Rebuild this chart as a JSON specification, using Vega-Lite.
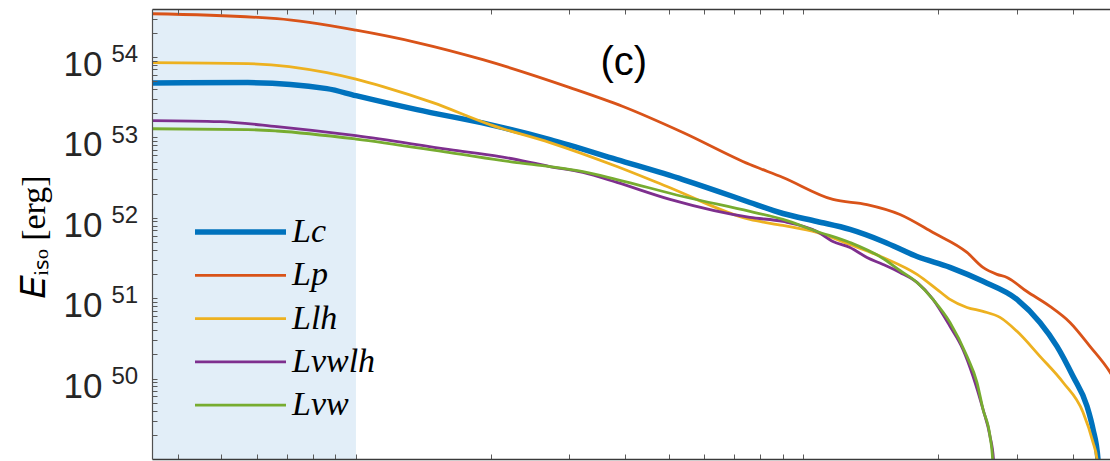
{
  "$schema": "https://vega.github.io/schema/vega-lite/v6.json",
  "width": 958,
  "height": 450,
  "autosize": {"type": "none"},
  "padding": {"left": 152, "top": 9, "right": 0, "bottom": 2},
  "background": "white",
  "config": {
    "view": {"stroke": null},
    "axis": {"grid": false, "labelOverlap": false, "labelFlush": false, "zindex": 2}
  },
  "datasets": {
    "band": [{"start": 0.35, "end": 1.0}],
    "note": [{"t": 3.97, "Eiso": 6.03e53, "label": "(c)"}],
    "curves": [
      {"series": "Lc", "t": 0.35, "Eiso": 4.75e53},
      {"series": "Lc", "t": 0.573, "Eiso": 4.8e53},
      {"series": "Lc", "t": 0.861, "Eiso": 4.04e53},
      {"series": "Lc", "t": 1.0, "Eiso": 3.3e53},
      {"series": "Lc", "t": 1.369, "Eiso": 2.21e53},
      {"series": "Lc", "t": 1.993, "Eiso": 1.44e53},
      {"series": "Lc", "t": 2.715, "Eiso": 9.4e52},
      {"series": "Lc", "t": 3.832, "Eiso": 5.3e52},
      {"series": "Lc", "t": 5.383, "Eiso": 2.99e52},
      {"series": "Lc", "t": 6.965, "Eiso": 1.84e52},
      {"series": "Lc", "t": 7.601, "Eiso": 1.55e52},
      {"series": "Lc", "t": 9.007, "Eiso": 1.13e52},
      {"series": "Lc", "t": 10.73, "Eiso": 9.0e51},
      {"series": "Lc", "t": 12.72, "Eiso": 7.16e51},
      {"series": "Lc", "t": 15.08, "Eiso": 5.08e51},
      {"series": "Lc", "t": 17.96, "Eiso": 3.3e51},
      {"series": "Lc", "t": 21.28, "Eiso": 2.42e51},
      {"series": "Lc", "t": 25.22, "Eiso": 1.62e51},
      {"series": "Lc", "t": 30.05, "Eiso": 9.66e50},
      {"series": "Lc", "t": 33.82, "Eiso": 5.0e50},
      {"series": "Lc", "t": 36.92, "Eiso": 2.52e50},
      {"series": "Lc", "t": 40.09, "Eiso": 1.07e50},
      {"series": "Lc", "t": 43.09, "Eiso": 4.53e49},
      {"series": "Lc", "t": 44.44, "Eiso": 2.34e49},
      {"series": "Lc", "t": 45.58, "Eiso": 1.0e49},
      {"series": "Lc", "t": 46.0, "Eiso": 1.0e47},
      {"series": "Lp", "t": 0.35, "Eiso": 3.45e54},
      {"series": "Lp", "t": 0.666, "Eiso": 2.99e54},
      {"series": "Lp", "t": 1.0, "Eiso": 2.15e54},
      {"series": "Lp", "t": 1.369, "Eiso": 1.51e54},
      {"series": "Lp", "t": 1.922, "Eiso": 9.25e53},
      {"series": "Lp", "t": 3.009, "Eiso": 4.16e53},
      {"series": "Lp", "t": 3.953, "Eiso": 2.42e53},
      {"series": "Lp", "t": 5.383, "Eiso": 1.15e53},
      {"series": "Lp", "t": 7.601, "Eiso": 4.59e52},
      {"series": "Lp", "t": 9.007, "Eiso": 3.17e52},
      {"series": "Lp", "t": 11.65, "Eiso": 1.69e52},
      {"series": "Lp", "t": 13.88, "Eiso": 1.46e52},
      {"series": "Lp", "t": 16.45, "Eiso": 1.1e52},
      {"series": "Lp", "t": 19.5, "Eiso": 6.56e51},
      {"series": "Lp", "t": 23.23, "Eiso": 3.71e51},
      {"series": "Lp", "t": 25.22, "Eiso": 2.42e51},
      {"series": "Lp", "t": 27.1, "Eiso": 1.98e51},
      {"series": "Lp", "t": 28.54, "Eiso": 1.81e51},
      {"series": "Lp", "t": 31.63, "Eiso": 1.21e51},
      {"series": "Lp", "t": 35.61, "Eiso": 7.91e50},
      {"series": "Lp", "t": 39.47, "Eiso": 5.0e50},
      {"series": "Lp", "t": 43.75, "Eiso": 2.52e50},
      {"series": "Lp", "t": 48.51, "Eiso": 1.2e50},
      {"series": "Lp", "t": 52.0, "Eiso": 6.0e49},
      {"series": "Llh", "t": 0.35, "Eiso": 8.5e53},
      {"series": "Llh", "t": 0.573, "Eiso": 8.26e53},
      {"series": "Llh", "t": 0.861, "Eiso": 6.38e53},
      {"series": "Llh", "t": 1.0, "Eiso": 5.3e53},
      {"series": "Llh", "t": 1.149, "Eiso": 4.28e53},
      {"series": "Llh", "t": 1.486, "Eiso": 2.7e53},
      {"series": "Llh", "t": 1.993, "Eiso": 1.44e53},
      {"series": "Llh", "t": 2.715, "Eiso": 8.61e52},
      {"series": "Llh", "t": 3.832, "Eiso": 4.34e52},
      {"series": "Llh", "t": 4.958, "Eiso": 2.45e52},
      {"series": "Llh", "t": 7.601, "Eiso": 9.53e51},
      {"series": "Llh", "t": 9.007, "Eiso": 8.02e51},
      {"series": "Llh", "t": 10.73, "Eiso": 6.56e51},
      {"series": "Llh", "t": 12.72, "Eiso": 4.65e51},
      {"series": "Llh", "t": 15.08, "Eiso": 3.21e51},
      {"series": "Llh", "t": 17.96, "Eiso": 1.98e51},
      {"series": "Llh", "t": 19.9, "Eiso": 1.29e51},
      {"series": "Llh", "t": 21.28, "Eiso": 9.66e50},
      {"series": "Llh", "t": 23.23, "Eiso": 7.67e50},
      {"series": "Llh", "t": 25.22, "Eiso": 6.85e50},
      {"series": "Llh", "t": 27.53, "Eiso": 5.77e50},
      {"series": "Llh", "t": 30.05, "Eiso": 3.87e50},
      {"series": "Llh", "t": 33.82, "Eiso": 1.89e50},
      {"series": "Llh", "t": 38.07, "Eiso": 9.0e49},
      {"series": "Llh", "t": 42.21, "Eiso": 3.81e49},
      {"series": "Llh", "t": 44.44, "Eiso": 1.61e49},
      {"series": "Llh", "t": 45.35, "Eiso": 1.0e49},
      {"series": "Llh", "t": 45.6, "Eiso": 1.0e47},
      {"series": "Lvwlh", "t": 0.35, "Eiso": 1.62e53},
      {"series": "Lvwlh", "t": 0.497, "Eiso": 1.57e53},
      {"series": "Lvwlh", "t": 0.666, "Eiso": 1.36e53},
      {"series": "Lvwlh", "t": 1.0, "Eiso": 1.05e53},
      {"series": "Lvwlh", "t": 1.622, "Eiso": 7.05e52},
      {"series": "Lvwlh", "t": 2.098, "Eiso": 5.77e52},
      {"series": "Lvwlh", "t": 2.715, "Eiso": 4.34e52},
      {"series": "Lvwlh", "t": 3.217, "Eiso": 3.66e52},
      {"series": "Lvwlh", "t": 3.832, "Eiso": 2.75e52},
      {"series": "Lvwlh", "t": 5.035, "Eiso": 1.69e52},
      {"series": "Lvwlh", "t": 7.601, "Eiso": 1.01e52},
      {"series": "Lvwlh", "t": 9.007, "Eiso": 9.0e51},
      {"series": "Lvwlh", "t": 10.73, "Eiso": 6.76e51},
      {"series": "Lvwlh", "t": 11.65, "Eiso": 5.08e51},
      {"series": "Lvwlh", "t": 12.72, "Eiso": 4.28e51},
      {"series": "Lvwlh", "t": 13.88, "Eiso": 3.21e51},
      {"series": "Lvwlh", "t": 15.08, "Eiso": 2.63e51},
      {"series": "Lvwlh", "t": 16.45, "Eiso": 2.09e51},
      {"series": "Lvwlh", "t": 17.96, "Eiso": 1.57e51},
      {"series": "Lvwlh", "t": 19.5, "Eiso": 9.66e50},
      {"series": "Lvwlh", "t": 21.28, "Eiso": 4.47e50},
      {"series": "Lvwlh", "t": 22.75, "Eiso": 2.31e50},
      {"series": "Lvwlh", "t": 23.96, "Eiso": 1.07e50},
      {"series": "Lvwlh", "t": 25.22, "Eiso": 4.16e49},
      {"series": "Lvwlh", "t": 26.15, "Eiso": 1.92e49},
      {"series": "Lvwlh", "t": 26.62, "Eiso": 1.0e49},
      {"series": "Lvwlh", "t": 26.7, "Eiso": 1.0e47},
      {"series": "Lvw", "t": 0.35, "Eiso": 1.28e53},
      {"series": "Lvw", "t": 0.573, "Eiso": 1.25e53},
      {"series": "Lvw", "t": 0.666, "Eiso": 1.2e53},
      {"series": "Lvw", "t": 1.0, "Eiso": 9.53e52},
      {"series": "Lvw", "t": 1.622, "Eiso": 6.47e52},
      {"series": "Lvw", "t": 2.29, "Eiso": 4.86e52},
      {"series": "Lvw", "t": 2.715, "Eiso": 4.34e52},
      {"series": "Lvw", "t": 3.217, "Eiso": 3.76e52},
      {"series": "Lvw", "t": 3.832, "Eiso": 2.99e52},
      {"series": "Lvw", "t": 5.383, "Eiso": 1.84e52},
      {"series": "Lvw", "t": 7.601, "Eiso": 1.2e52},
      {"series": "Lvw", "t": 9.007, "Eiso": 9.53e51},
      {"series": "Lvw", "t": 10.73, "Eiso": 6.76e51},
      {"series": "Lvw", "t": 12.72, "Eiso": 4.93e51},
      {"series": "Lvw", "t": 15.08, "Eiso": 3.12e51},
      {"series": "Lvw", "t": 16.45, "Eiso": 2.21e51},
      {"series": "Lvw", "t": 17.96, "Eiso": 1.57e51},
      {"series": "Lvw", "t": 19.5, "Eiso": 9.66e50},
      {"series": "Lvw", "t": 21.28, "Eiso": 5.0e50},
      {"series": "Lvw", "t": 23.23, "Eiso": 1.89e50},
      {"series": "Lvw", "t": 24.45, "Eiso": 9.0e49},
      {"series": "Lvw", "t": 25.22, "Eiso": 4.16e49},
      {"series": "Lvw", "t": 26.15, "Eiso": 1.92e49},
      {"series": "Lvw", "t": 26.5, "Eiso": 1.0e49},
      {"series": "Lvw", "t": 26.6, "Eiso": 1.0e47}
    ]
  },
  "layer": [
    {
      "data": {"name": "band"},
      "mark": {"type": "rect", "color": "#E2EEF8"},
      "encoding": {
        "x": {"field": "start", "type": "quantitative", "axis": null,
              "scale": {"type": "log", "domain": [0.35, 48.5], "nice": false}},
        "x2": {"field": "end"}
      }
    },
    {
      "data": {"name": "curves"},
      "mark": {"type": "line", "clip": true, "interpolate": "monotone", "strokeJoin": "round", "strokeCap": "butt"},
      "encoding": {
        "x": {
          "field": "t", "type": "quantitative",
          "scale": {"type": "log", "domain": [0.35, 48.5], "nice": false},
          "axis": {
            "orient": "bottom", "title": null, "labels": false, "zindex": 2,
            "values": [0.4, 0.5, 0.6, 0.7, 0.8, 0.9, 1, 2, 3, 4, 5, 6, 7, 8, 9, 10, 20, 30, 40],
            "domainColor": "#3a3a3a", "domainWidth": 1.4,
            "tickColor": "#5a5a5a", "tickWidth": 1, "tickSize": -5,
            "encode": {"ticks": {"update": {"y2": {"signal": "abs(log(datum.value)/LN10 - round(log(datum.value)/LN10)) < 1e-6 ? -10 : -5"}}}}
          }
        },
        "y": {
          "field": "Eiso", "type": "quantitative",
          "scale": {"type": "log", "domain": [1e49, 3.95e54], "nice": false},
          "axis": {
            "orient": "left", "zindex": 2,
            "values": [2e49, 3e49, 4e49, 5e49, 6e49, 7e49, 8e49, 9e49,
                       1e50, 2e50, 3e50, 4e50, 5e50, 6e50, 7e50, 8e50, 9e50,
                       1e51, 2e51, 3e51, 4e51, 5e51, 6e51, 7e51, 8e51, 9e51,
                       1e52, 2e52, 3e52, 4e52, 5e52, 6e52, 7e52, 8e52, 9e52,
                       1e53, 2e53, 3e53, 4e53, 5e53, 6e53, 7e53, 8e53, 9e53,
                       1e54, 2e54, 3e54],
            "labelExpr": "abs(log(datum.value)/LN10 - round(log(datum.value)/LN10)) < 1e-6 ? '10' : ''",
            "labelFont": "Liberation Sans", "labelFontSize": 35, "labelColor": "#262626",
            "labelPadding": 55, "labelBaseline": "alphabetic", "labelOffset": 18.5,
            "domainColor": "#505050", "domainWidth": 1.2,
            "tickColor": "#5a5a5a", "tickWidth": 1, "tickSize": -5,
            "encode": {"ticks": {"update": {"x2": {"signal": "abs(log(datum.value)/LN10 - round(log(datum.value)/LN10)) < 1e-6 ? 10 : 5"}}}},
            "title": "𝐸ᵢₛₒ [erg]",
            "titleFont": "Liberation Serif", "titleFontSize": 34, "titleFontWeight": "normal",
            "titleColor": "#000000", "titleX": -118, "titleY": 227,
            "titleAngle": -90, "titleAlign": "center", "titleBaseline": "middle"
          }
        },
        "color": {
          "field": "series", "type": "nominal",
          "scale": {"domain": ["Lc", "Lp", "Llh", "Lvwlh", "Lvw"],
                    "range": ["#0072BD", "#D95319", "#EDB120", "#7E2F8E", "#77AC30"]},
          "legend": {
            "orient": "none", "legendX": 40, "legendY": 213, "title": null,
            "symbolType": "stroke", "symbolSize": 8281, "clipHeight": 20, "rowPadding": 9.3,
            "labelFont": "Liberation Serif", "labelFontStyle": "italic", "labelFontSize": 34,
            "labelColor": "#000000", "labelOffset": 3, "padding": 0
          }
        },
        "strokeWidth": {
          "field": "series", "type": "nominal",
          "scale": {"type": "ordinal", "domain": ["Lc", "Lp", "Llh", "Lvwlh", "Lvw"],
                    "range": [5.5, 2.8, 2.8, 2.8, 2.8]},
          "legend": {
            "orient": "none", "legendX": 40, "legendY": 213, "title": null,
            "symbolType": "stroke", "symbolSize": 8281, "clipHeight": 20, "rowPadding": 9.3,
            "labelFont": "Liberation Serif", "labelFontStyle": "italic", "labelFontSize": 34,
            "labelColor": "#000000", "labelOffset": 3, "padding": 0
          }
        }
      }
    },
    {
      "data": {"name": "note"},
      "mark": {"type": "text", "font": "Liberation Sans", "fontSize": 40, "color": "#000000",
               "align": "center", "baseline": "alphabetic"},
      "encoding": {
        "x": {
          "field": "t", "type": "quantitative",
          "scale": {"type": "log", "domain": [0.35, 48.5], "nice": false},
          "axis": {
            "orient": "top", "title": null, "labels": false, "zindex": 2,
            "values": [0.4, 0.5, 0.6, 0.7, 0.8, 0.9, 1, 2, 3, 4, 5, 6, 7, 8, 9, 10, 20, 30, 40],
            "domainColor": "#3a3a3a", "domainWidth": 1.4,
            "tickColor": "#5a5a5a", "tickWidth": 1, "tickSize": -5,
            "encode": {"ticks": {"update": {"y2": {"signal": "abs(log(datum.value)/LN10 - round(log(datum.value)/LN10)) < 1e-6 ? 10 : 5"}}}}
          }
        },
        "y": {
          "field": "Eiso", "type": "quantitative",
          "scale": {"type": "log", "domain": [1e49, 3.95e54], "nice": false},
          "axis": {
            "orient": "left", "title": null, "ticks": false, "domain": false, "zindex": 2,
            "values": [1e50, 1e51, 1e52, 1e53, 1e54],
            "labelExpr": "'' + round(log(datum.value)/LN10)",
            "labelFont": "Liberation Sans", "labelFontSize": 24, "labelColor": "#262626",
            "labelAlign": "left", "labelPadding": 41, "labelBaseline": "alphabetic", "labelOffset": 4.7
          }
        },
        "text": {"field": "label"}
      }
    }
  ],
  "resolve": {"axis": {"x": "independent", "y": "independent"}}
}
